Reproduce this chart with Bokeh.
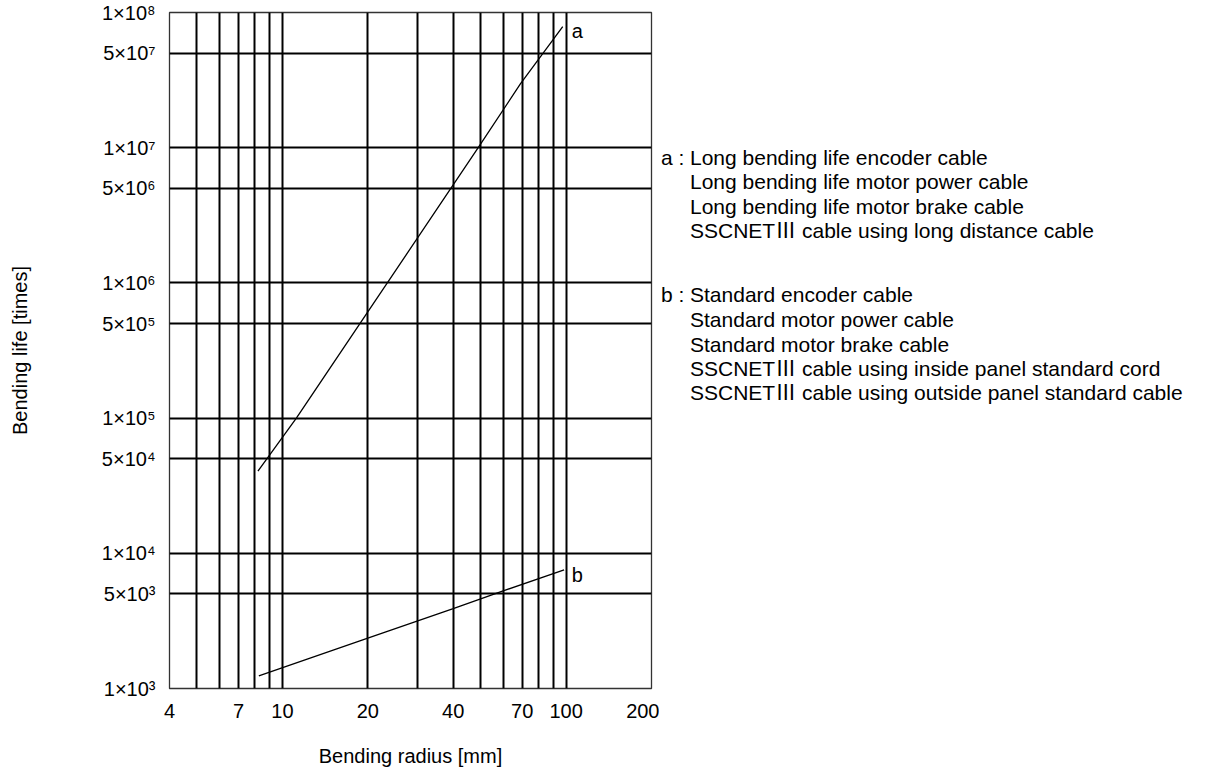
from bokeh.plotting import figure
from bokeh.models import FixedTicker, Range1d
from bokeh.layouts import row
from bokeh.core.properties import value
from bokeh.embed import file_html
from bokeh.resources import INLINE

# ---- data ----
x_ticks = [4, 7, 10, 20, 40, 70, 100, 200]
x_tick_labels = ["4", "7", "10", "20", "40", "70", "100", "200"]
x_grid = [5, 6, 7, 8, 9, 10, 20, 30, 40, 50, 60, 70, 80, 90, 100]

y_ticks = [1e3, 5e3, 1e4, 5e4, 1e5, 5e5, 1e6, 5e6, 1e7, 5e7, 1e8]
y_tick_labels = ["1×10³", "5×10³", "1×10⁴", "5×10⁴", "1×10⁵", "5×10⁵",
                 "1×10⁶", "5×10⁶", "1×10⁷", "5×10⁷", "1×10⁸"]
y_grid = [5e3, 1e4, 5e4, 1e5, 5e5, 1e6, 5e6, 1e7, 5e7]

curve_a_x = [8.2, 11.2, 20, 49, 69, 97.3]
curve_a_y = [4.06e4, 1.0e5, 6.1e5, 1.0e7, 2.96e7, 7.85e7]
curve_b_x = [8.26, 20, 40, 60, 98.4]
curve_b_y = [1.24e3, 2.36e3, 3.9e3, 5.27e3, 7.55e3]

curve_names = ["a", "b"]
curve_name_x = [104.7, 104.7]
curve_name_y = [7.3e7, 6.9e3]

legend_keys = ["a :", "b :"]
legend_a = ["Long bending life encoder cable",
            "Long bending life motor power cable",
            "Long bending life motor brake cable",
            "SSCNETⅢ cable using long distance cable"]
legend_b = ["Standard encoder cable",
            "Standard motor power cable",
            "Standard motor brake cable",
            "SSCNETⅢ cable using inside panel standard cord",
            "SSCNETⅢ cable using outside panel standard cable"]

FONT = "Liberation Sans"
FONT_LEG = "Liberation Sans, Noto Sans CJK JP"
FS = "20px"
FS_LEG = "21px"

H = 772
P_W = 659
Q_W = 1200 - P_W
TOP = 12
BOTTOM = 84

p = figure(width=P_W, height=H, x_axis_type="log", y_axis_type="log",
           x_range=(4, 200), y_range=(1e3, 1e8),
           output_backend="svg", toolbar_location=None,
           min_border_left=169, min_border_right=8,
           min_border_top=TOP, min_border_bottom=BOTTOM)
p.background_fill_color = "white"
p.border_fill_color = "white"
p.outline_line_color = "#333333"
p.outline_line_width = 1.3

p.xaxis.ticker = FixedTicker(ticks=x_ticks)
p.xaxis.major_label_overrides = {float(t): s for t, s in zip(x_ticks, x_tick_labels)}
p.yaxis.ticker = FixedTicker(ticks=y_ticks)
p.yaxis.major_label_overrides = {float(t): s for t, s in zip(y_ticks, y_tick_labels)}
for ax in (p.xaxis, p.yaxis):
    ax.axis_line_color = None
    ax.major_tick_line_color = None
    ax.minor_tick_line_color = None
    ax.major_tick_out = 0
    ax.major_tick_in = 0
    ax.major_label_text_font = FONT
    ax.major_label_text_font_size = FS
    ax.major_label_text_color = "black"
    ax.axis_label_text_font = FONT
    ax.axis_label_text_font_size = FS
    ax.axis_label_text_font_style = "normal"
    ax.axis_label_text_color = "black"
p.xaxis.axis_label = "Bending radius [mm]"
p.yaxis.axis_label = "Bending life [times]"
p.xaxis.major_label_standoff = 15
p.xaxis.axis_label_standoff = 24
p.yaxis.major_label_standoff = 14
p.yaxis.axis_label_standoff = 68

p.xgrid.ticker = FixedTicker(ticks=x_grid)
p.ygrid.ticker = FixedTicker(ticks=y_grid)
for g in (p.xgrid, p.ygrid):
    g.grid_line_color = "black"
    g.grid_line_width = 2
    g.grid_line_alpha = 1.0

p.line(curve_a_x, curve_a_y, line_color="black", line_width=1.3)
p.line(curve_b_x, curve_b_y, line_color="black", line_width=1.3)
p.text(x=curve_name_x, y=curve_name_y, text=curve_names,
       text_font=value(FONT), text_font_size=FS, text_color="black",
       text_align="left", text_baseline="alphabetic")

# ---- legend panel: frame aligned with the plot frame, data units = page pixels ----
q = figure(width=Q_W, height=H, x_range=Range1d(P_W, P_W + Q_W),
           y_range=Range1d(H - BOTTOM, TOP),
           output_backend="svg", toolbar_location=None,
           min_border_left=0, min_border_right=0,
           min_border_top=TOP, min_border_bottom=BOTTOM)
q.axis.visible = False
q.grid.visible = False
q.outline_line_color = None
q.background_fill_color = "white"
q.border_fill_color = "white"

key_x = 660.5
txt_x = 689.5
ys_a = [156.8, 181.2, 205.6, 230.0]
ys_b = [294.4, 319.0, 343.5, 368.0, 392.0]
q.text(x=[key_x, key_x], y=[ys_a[0], ys_b[0]], text=legend_keys,
       text_font=value(FONT_LEG), text_font_size=FS_LEG, text_color="black",
       text_align="left", text_baseline="middle")
q.text(x=[txt_x] * (len(legend_a) + len(legend_b)), y=ys_a + ys_b,
       text=legend_a + legend_b,
       text_font=value(FONT_LEG), text_font_size=FS_LEG, text_color="black",
       text_align="left", text_baseline="middle")

layout = row(p, q, spacing=0)
open("out.html", "w").write(file_html(layout, INLINE))
